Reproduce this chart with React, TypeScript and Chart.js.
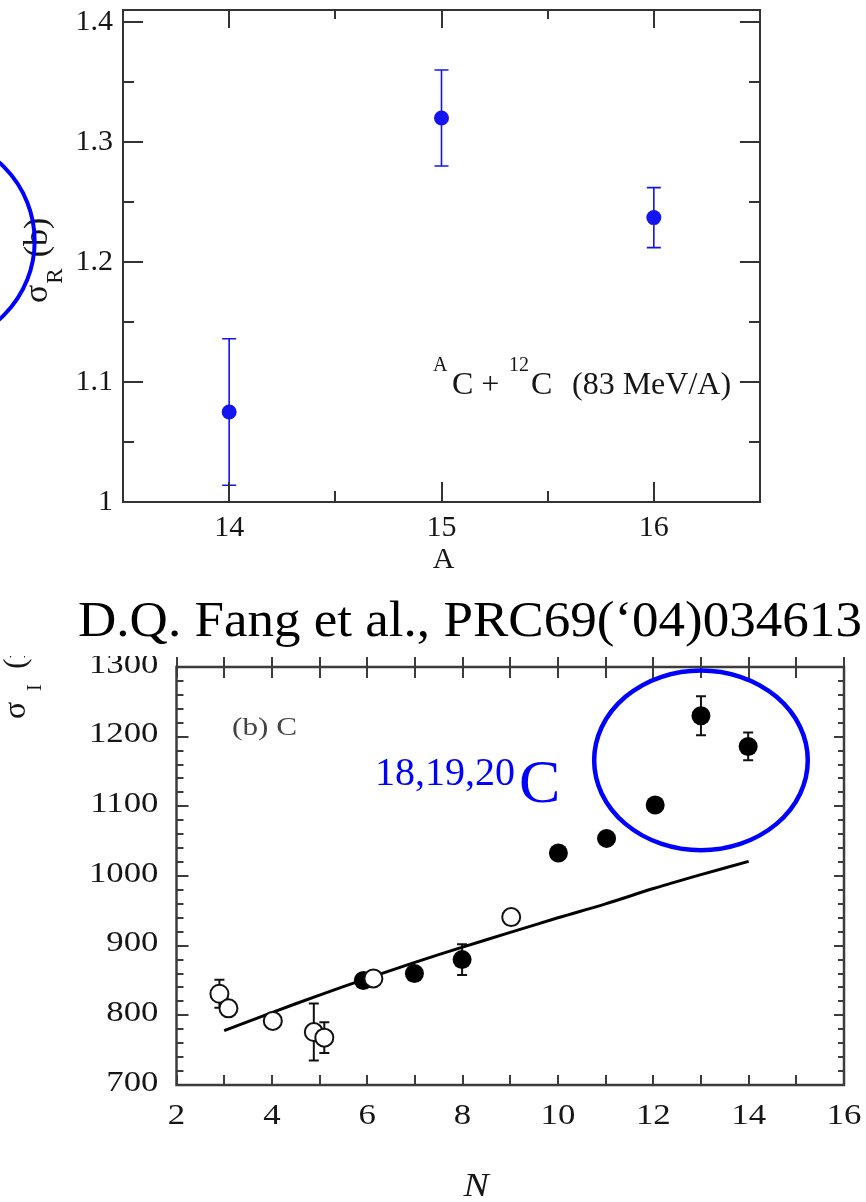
import React, { useEffect, useRef } from "react";
import { Chart, registerables } from "chart.js";

Chart.register(...registerables);

const SERIF = '"Liberation Serif", "Times New Roman", serif';
const BLUE = "#0000ff";
const POINT_BLUE = "#1414f0";
const INK = "#161616";
const FRAME = "#333333";

// ---------- Top panel: ^AC + 12C (83 MeV/A) reaction cross section ----------
const massNumberA = [14, 15, 16];
const sigmaRBarn = [1.075, 1.32, 1.237];
const sigmaRError = [0.061, 0.04, 0.025];
const topYMajor = [1, 1.1, 1.2, 1.3, 1.4];
const topYLabels = ["1", "1.1", "1.2", "1.3", "1.4"];
const topYMinor = [1.05, 1.15, 1.25, 1.35];
const topXMajor = [14, 15, 16];
const topXLabels = ["14", "15", "16"];
const topXMinor = [14.5, 15.5];
// highlight circle (partly off-page, left of the y title): centre in data units, radius in A units
const topCircleCenter = [12.59, 1.2175];
const topCircleRadiusA = 0.494;

// ---------- Bottom panel: (b) C interaction cross sections vs N ----------
const openN = [2.9, 3.09, 4.02, 4.88, 5.1, 6.13, 9.02];
const openSigmaI = [831, 810, 792, 776, 768, 853, 941];
const openError = [20, 0, 0, 41, 22, 0, 0];
const filledN = [5.92, 6.99, 7.99, 10.01, 11.02, 12.04, 13.0, 13.99];
const filledSigmaI = [850, 860, 880, 1033, 1054, 1102, 1230, 1186];
const filledError = [0, 0, 22, 0, 0, 0, 28, 20];
const calcN = [3, 4, 5, 6, 7, 8, 9, 10, 11, 12, 13, 14];
const calcSigmaI = [778, 804, 829, 853, 876, 898, 919, 940, 960, 982, 1002, 1021];
const botYMajor = [700, 800, 900, 1000, 1100, 1200, 1300];
const botYLabels = ["700", "800", "900", "1000", "1100", "1200", "1300"];
const botYMinor = [
  720, 740, 760, 780, 820, 840, 860, 880, 920, 940, 960, 980, 1020, 1040, 1060, 1080,
  1120, 1140, 1160, 1180, 1220, 1240, 1260, 1280,
];
const botXTicks = [2, 3, 4, 5, 6, 7, 8, 9, 10, 11, 12, 13, 14, 15, 16];
const botXLabelValues = [2, 4, 6, 8, 10, 12, 14, 16];
const botXLabels = ["2", "4", "6", "8", "10", "12", "14", "16"];
// highlight ellipse around 18,19,20C (data units)
const ellipseCenter = [13.0, 1166];
const ellipseRadius = [2.24, 129];

function drawText(
  ctx: CanvasRenderingContext2D,
  s: string,
  x: number,
  y: number,
  font: string,
  color: string,
  align: CanvasTextAlign = "left",
  baseline: CanvasTextBaseline = "alphabetic",
  sx = 1
) {
  ctx.save();
  ctx.font = font;
  ctx.fillStyle = color;
  ctx.textAlign = align;
  ctx.textBaseline = baseline;
  ctx.translate(x, y);
  ctx.scale(sx, 1);
  ctx.fillText(s, 0, 0);
  ctx.restore();
}

function line(ctx: CanvasRenderingContext2D, x1: number, y1: number, x2: number, y2: number) {
  ctx.moveTo(x1, y1);
  ctx.lineTo(x2, y2);
}

const topPanelPlugin = {
  id: "topPanel",
  beforeDatasetsDraw(chart: any) {
    const { ctx, scales } = chart;
    const x = scales.x;
    const y = scales.y;
    ctx.save();
    ctx.strokeStyle = POINT_BLUE;
    ctx.lineWidth = 1.6;
    ctx.beginPath();
    massNumberA.forEach((m, i) => {
      const px = x.getPixelForValue(m);
      const y1 = y.getPixelForValue(sigmaRBarn[i] + sigmaRError[i]);
      const y2 = y.getPixelForValue(sigmaRBarn[i] - sigmaRError[i]);
      line(ctx, px, y1, px, y2);
      line(ctx, px - 7, y1, px + 7, y1);
      line(ctx, px - 7, y2, px + 7, y2);
    });
    ctx.stroke();
    ctx.restore();
  },
  afterDraw(chart: any) {
    const { ctx, chartArea: a, scales } = chart;
    const x = scales.x;
    const y = scales.y;
    ctx.save();
    // frame
    ctx.strokeStyle = FRAME;
    ctx.lineWidth = 2;
    ctx.strokeRect(a.left, a.top, a.right - a.left, a.bottom - a.top);
    // ticks
    ctx.beginPath();
    topYMajor.forEach((v) => {
      const py = Math.round(y.getPixelForValue(v));
      line(ctx, a.left, py, a.left + 20, py);
      line(ctx, a.right - 20, py, a.right, py);
    });
    topYMinor.forEach((v) => {
      const py = Math.round(y.getPixelForValue(v));
      line(ctx, a.left, py, a.left + 11, py);
      line(ctx, a.right - 11, py, a.right, py);
    });
    topXMajor.forEach((v) => {
      const px = Math.round(x.getPixelForValue(v));
      line(ctx, px, a.bottom, px, a.bottom - 20);
      line(ctx, px, a.top, px, a.top + 18);
    });
    topXMinor.forEach((v) => {
      const px = Math.round(x.getPixelForValue(v));
      line(ctx, px, a.bottom, px, a.bottom - 11);
      line(ctx, px, a.top, px, a.top + 9);
    });
    ctx.stroke();
    ctx.restore();

    const f30 = `30px ${SERIF}`;
    topYMajor.forEach((v, i) => {
      drawText(ctx, topYLabels[i], a.left - 10, y.getPixelForValue(v), f30, INK, "right", "middle");
    });
    topXMajor.forEach((v, i) => {
      drawText(ctx, topXLabels[i], x.getPixelForValue(v), a.bottom + 26, f30, INK, "center", "middle");
    });
    drawText(ctx, "A", (a.left + a.right) / 2 + 2, a.bottom + 58, f30, INK, "center", "middle");

    // y title: sigma_R (b), rotated
    ctx.save();
    ctx.translate(47, (a.top + a.bottom) / 2 + 47);
    ctx.rotate(-Math.PI / 2);
    ctx.fillStyle = INK;
    ctx.textBaseline = "alphabetic";
    ctx.font = `34px ${SERIF}`;
    ctx.fillText("σ", 0, 0);
    const ws = ctx.measureText("σ").width;
    ctx.font = `23px ${SERIF}`;
    ctx.fillText("R", ws + 1, 15);
    const wr = ctx.measureText("R").width;
    ctx.font = `34px ${SERIF}`;
    ctx.fillText("(b)", ws + wr + 12, 0);
    ctx.restore();

    // reaction annotation
    const sup = `20px ${SERIF}`;
    const main = `32px ${SERIF}`;
    const baseY = y.getPixelForValue(1.1) + 12;
    drawText(ctx, "A", 433, baseY - 23, sup, INK);
    drawText(ctx, "C + ", 452, baseY, main, INK);
    drawText(ctx, "12", 509, baseY - 23, sup, INK);
    drawText(ctx, "C", 531, baseY, main, INK);
    drawText(ctx, "(83 MeV/A)", 572, baseY, main, INK);

    // blue highlight circle around the y title
    const cx = x.getPixelForValue(topCircleCenter[0]);
    const cy = y.getPixelForValue(topCircleCenter[1]);
    const r = Math.abs(x.getPixelForValue(topCircleCenter[0] + topCircleRadiusA) - cx);
    ctx.save();
    ctx.strokeStyle = BLUE;
    ctx.lineWidth = 4;
    ctx.beginPath();
    ctx.arc(cx, cy, r, 0, Math.PI * 2);
    ctx.stroke();
    ctx.restore();

    // reference caption between the panels
    drawText(ctx, "D.Q. Fang et al., PRC69(\u201804)034613", 78, 636, `50px ${SERIF}`, "#000000", "left", "alphabetic", 1.061);
  },
};

const bottomPanelPlugin = {
  id: "bottomPanel",
  beforeDatasetsDraw(chart: any) {
    const { ctx, scales } = chart;
    const x = scales.x;
    const y = scales.y;
    ctx.save();
    ctx.strokeStyle = "#111111";
    ctx.lineWidth = 2;
    ctx.beginPath();
    const bars = (ns: number[], vs: number[], es: number[]) => {
      ns.forEach((n, i) => {
        if (!es[i]) return;
        const px = x.getPixelForValue(n);
        const y1 = y.getPixelForValue(vs[i] + es[i]);
        const y2 = y.getPixelForValue(vs[i] - es[i]);
        line(ctx, px, y1, px, y2);
        line(ctx, px - 5, y1, px + 5, y1);
        line(ctx, px - 5, y2, px + 5, y2);
      });
    };
    bars(openN, openSigmaI, openError);
    bars(filledN, filledSigmaI, filledError);
    ctx.stroke();
    ctx.restore();
  },
  afterDraw(chart: any) {
    const { ctx, chartArea: a, scales } = chart;
    const x = scales.x;
    const y = scales.y;
    ctx.save();
    ctx.strokeStyle = "#3c3c3c";
    ctx.lineWidth = 2.5;
    ctx.strokeRect(a.left, a.top, a.right - a.left, a.bottom - a.top);
    ctx.lineWidth = 2;
    ctx.beginPath();
    botYMajor.forEach((v) => {
      const py = Math.round(y.getPixelForValue(v));
      line(ctx, a.left, py, a.left + 12, py);
      line(ctx, a.right - 10, py, a.right, py);
    });
    botYMinor.forEach((v) => {
      const py = Math.round(y.getPixelForValue(v));
      line(ctx, a.left, py, a.left + 7, py);
      line(ctx, a.right - 6, py, a.right, py);
    });
    botXTicks.forEach((v) => {
      const px = Math.round(x.getPixelForValue(v));
      line(ctx, px, a.bottom, px, a.bottom - 10);
      line(ctx, px, a.top - 10, px, a.top + 11);
    });
    ctx.stroke();
    ctx.restore();

    const f29 = `29px ${SERIF}`;
    botYMajor.forEach((v, i) => {
      drawText(ctx, botYLabels[i], a.left - 18, y.getPixelForValue(v) - 2, f29, INK, "right", "middle", 1.2);
    });
    botXLabelValues.forEach((v, i) => {
      drawText(ctx, botXLabels[i], x.getPixelForValue(v), a.bottom + 31, f29, INK, "center", "middle", 1.2);
    });
    drawText(ctx, "N", (a.left + a.right) / 2 - 34, a.bottom + 102, `italic 33px ${SERIF}`, INK, "center", "middle", 1.15);
    drawText(ctx, "(b) C", 232, a.top + 61, `26px ${SERIF}`, "#444444", "left", "middle", 1.2);

    // cut-off y title sigma_I (mb)
    ctx.save();
    ctx.translate(25, a.top + 52);
    ctx.rotate(-Math.PI / 2);
    ctx.fillStyle = INK;
    ctx.font = `32px ${SERIF}`;
    ctx.fillText("σ", 0, 0);
    ctx.font = `20px ${SERIF}`;
    ctx.fillText("I", 28, 16);
    ctx.font = `32px ${SERIF}`;
    ctx.fillText("(mb)", 50, 0);
    ctx.restore();

    // blue annotation 18,19,20C and ellipse
    drawText(ctx, "18,19,20", 375, a.top + 118, `40px ${SERIF}`, BLUE);
    drawText(ctx, "C", 519, a.top + 135, `62px ${SERIF}`, BLUE);
    const ex = x.getPixelForValue(ellipseCenter[0]);
    const ey = y.getPixelForValue(ellipseCenter[1]);
    const rx = Math.abs(x.getPixelForValue(ellipseCenter[0] + ellipseRadius[0]) - ex);
    const ry = Math.abs(y.getPixelForValue(ellipseCenter[1] + ellipseRadius[1]) - ey);
    ctx.save();
    ctx.strokeStyle = BLUE;
    ctx.lineWidth = 4.5;
    ctx.beginPath();
    ctx.ellipse(ex, ey, rx, ry, 0, 0, Math.PI * 2);
    ctx.stroke();
    ctx.restore();
  },
};

export default function App() {
  const topRef = useRef<HTMLCanvasElement | null>(null);
  const botRef = useRef<HTMLCanvasElement | null>(null);

  useEffect(() => {
    const hiddenScale = (min: number, max: number, size: number, axis: "x" | "y") => ({
      type: "linear" as const,
      min,
      max,
      ticks: { display: false },
      grid: { display: false },
      border: { display: false },
      afterFit: (s: any) => {
        if (axis === "x") s.height = size;
        else s.width = size;
      },
    });

    const top = new Chart(topRef.current as HTMLCanvasElement, {
      type: "scatter",
      data: {
        datasets: [
          {
            data: massNumberA.map((m, i) => ({ x: m, y: sigmaRBarn[i] })),
            pointRadius: 7.5,
            pointBackgroundColor: POINT_BLUE,
            pointBorderWidth: 0,
          },
        ],
      },
      options: {
        animation: false,
        responsive: false,
        devicePixelRatio: 1,
        layout: { padding: { left: 0, right: 106, top: 10, bottom: 0 } },
        plugins: { legend: { display: false }, tooltip: { enabled: false } },
        scales: {
          x: hiddenScale(13.5, 16.5, 154, "x"),
          y: hiddenScale(1.0, 1.41, 123, "y"),
        },
      } as any,
      plugins: [topPanelPlugin],
    });

    const bottom = new Chart(botRef.current as HTMLCanvasElement, {
      type: "scatter",
      data: {
        datasets: [
          {
            data: openN.map((n, i) => ({ x: n, y: openSigmaI[i] })),
            pointRadius: 9,
            pointBackgroundColor: "#ffffff",
            pointBorderColor: "#111111",
            pointBorderWidth: 2,
          },
          {
            data: filledN.map((n, i) => ({ x: n, y: filledSigmaI[i] })),
            pointRadius: 9.5,
            pointBackgroundColor: "#000000",
            pointBorderWidth: 0,
          },
          {
            type: "line",
            data: calcN.map((n, i) => ({ x: n, y: calcSigmaI[i] })),
            borderColor: "#000000",
            borderWidth: 3,
            pointRadius: 0,
            tension: 0.3,
            fill: false,
          } as any,
        ],
      },
      options: {
        animation: false,
        responsive: false,
        devicePixelRatio: 1,
        layout: { padding: { left: 0, right: 22, top: 6, bottom: 0 } },
        plugins: { legend: { display: false }, tooltip: { enabled: false } },
        scales: {
          x: hiddenScale(2, 16, 117, "x"),
          y: hiddenScale(700, 1300, 176.5, "y"),
        },
      } as any,
      plugins: [bottomPanelPlugin],
    });

    return () => {
      top.destroy();
      bottom.destroy();
    };
  }, []);

  return (
    <div style={{ position: "absolute", left: 0, top: 0, width: 866, height: 1202, background: "#ffffff", overflow: "hidden" }}>
      <canvas ref={topRef} width={866} height={656} style={{ position: "absolute", left: 0, top: 0, width: 866, height: 656 }} />
      <canvas ref={botRef} width={866} height={546} style={{ position: "absolute", left: 0, top: 656, width: 866, height: 546 }} />
    </div>
  );
}
